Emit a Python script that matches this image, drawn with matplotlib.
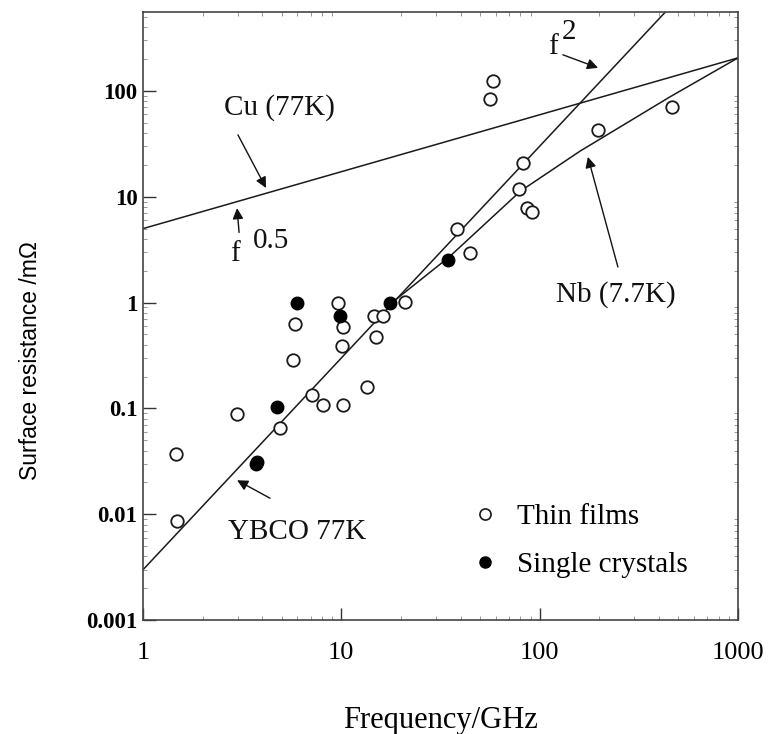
"""
Surface resistance vs frequency: YBCO films and crystals at 77 K,
compared with Cu (77 K) and Nb (7.7 K).
"""

import matplotlib

matplotlib.use("Agg")
import matplotlib.pyplot as plt
from matplotlib.lines import Line2D
from matplotlib.ticker import FixedLocator, LogLocator, NullFormatter

# thin film points (GHz, mOhm)
film_f = [1.47, 1.48, 2.98, 4.9, 5.7, 5.84, 7.1, 8.1, 9.6, 10.2, 10.1, 10.2,
          13.5, 14.6, 16.2, 15.0, 21.0, 38.3, 44.6, 82.5, 78.7, 86.4, 91.5,
          58.2, 56.2, 197, 465]
film_r = [0.037, 0.0086, 0.088, 0.066, 0.29, 0.63, 0.135, 0.107, 1.0, 0.59,
          0.385, 0.107, 0.16, 0.75, 0.74, 0.47, 1.02, 5.0, 2.96, 20.9, 11.9,
          7.9, 7.2, 124, 84, 43, 71]

# single crystal points
xtal_f = [3.7, 3.75, 4.74, 6.0, 9.85, 17.6, 34.5]
xtal_r = [0.030, 0.031, 0.104, 1.0, 0.75, 1.0, 2.5]

# reference curves
cu_f = [1, 1000]
cu_r = [5.0, 205]
nb_f = [18, 35, 80, 160, 455, 1000]
nb_r = [1.0, 2.7, 11.3, 27, 88, 205]
ybco_f = [1, 1000]
ybco_r = [0.003, 3000]

x_ticks = [1, 10, 100, 1000]
x_labels = ["1", "10", "100", "1000"]
y_ticks = [0.001, 0.01, 0.1, 1, 10, 100]
y_labels = ["0.001", "0.01", "0.1", "1", "10", "100"]

serif = ["Liberation Serif", "DejaVu Serif"]
plt.rcParams["font.family"] = serif

fig = plt.figure(figsize=(7.71, 7.34), dpi=100)
ax = fig.add_axes([0.1855, 0.155, 0.7717, 0.828])

line_kw = dict(color="#1a1a1a", linewidth=1.1, zorder=2)
ax.plot(cu_f, cu_r, **line_kw)
ax.plot(nb_f, nb_r, **line_kw)
ax.plot(ybco_f, ybco_r, **line_kw)

ax.plot(film_f, film_r, "o", ms=9, mfc="white", mec="#1a1a1a", mew=1.3,
        linestyle="none", zorder=3)
ax.plot(xtal_f, xtal_r, "o", ms=9, mfc="black", mec="black", mew=1.0,
        linestyle="none", zorder=3)

ax.set_xscale("log")
ax.set_yscale("log")
ax.set_xlim(1, 1000)
ax.set_ylim(0.001, 550)

ax.xaxis.set_major_locator(FixedLocator(x_ticks))
ax.set_xticklabels(x_labels, fontsize=19)
ax.yaxis.set_major_locator(FixedLocator(y_ticks))
ax.set_yticklabels(y_labels, fontsize=16.5, fontweight="bold")
ax.xaxis.set_minor_locator(LogLocator(base=10, subs=range(2, 10)))
ax.yaxis.set_minor_locator(LogLocator(base=10, subs=range(2, 10)))
ax.xaxis.set_minor_formatter(NullFormatter())
ax.yaxis.set_minor_formatter(NullFormatter())
ax.tick_params(which="major", direction="in", length=9, width=1.0,
               colors="#333333", labelcolor="black")
ax.tick_params(axis="x", which="major", pad=16)
ax.tick_params(axis="y", which="major", pad=4)
ax.tick_params(which="minor", direction="in", length=3, width=0.6,
               colors="#888888", top=True, right=True)
for sp in ax.spines.values():
    sp.set_color("#444444")
    sp.set_linewidth(1.2)

ax.set_xlabel("Frequency/GHz", fontsize=22, labelpad=30)
ax.set_ylabel("Surface resistance /m\u03a9", fontsize=16.5,
              family=["Liberation Sans Narrow", "Liberation Sans", "DejaVu Sans"])
ax.yaxis.set_label_coords(-0.17, 0.428)

txt = dict(fontsize=21, ha="center", va="center", color="#111111")
arrow = dict(arrowstyle="-|>", color="#111111", lw=1.0, mutation_scale=16,
             shrinkA=0, shrinkB=0)

ax.text(4.9, 69, "Cu (77K)", **txt)
ax.annotate("", xy=(4.17, 12.1), xytext=(3.01, 38.4), arrowprops=arrow)

ax.text(2.91, 2.9, "f", **txt)
ax.text(4.4, 3.8, "0.5", **txt)
ax.annotate("", xy=(2.98, 7.8), xytext=(3.05, 4.6), arrowprops=arrow)

ax.text(117, 258, "f", **txt)
ax.text(140, 360, "2", **txt)
ax.annotate("", xy=(197, 165), xytext=(131, 219), arrowprops=arrow)

ax.text(243, 1.18, "Nb (7.7K)", **txt)
ax.annotate("", xy=(175, 23.8), xytext=(248, 2.17), arrowprops=arrow)

ax.text(6.0, 0.0068, "YBCO 77K", **txt)
ax.annotate("", xy=(2.98, 0.021), xytext=(4.37, 0.0142), arrowprops=arrow)

handles = [
    Line2D([], [], marker="o", ls="none", ms=8, mfc="white", mec="#1a1a1a", mew=1.2),
    Line2D([], [], marker="o", ls="none", ms=8, mfc="black", mec="black"),
]
ax.legend(handles, ["Thin films", "Single crystals"], loc="upper left",
          bbox_to_anchor=(0.55, 0.192), frameon=False, fontsize=21,
          handlelength=1.0, handletextpad=0.6, labelspacing=0.75,
          borderpad=0, borderaxespad=0)

fig.savefig("out.png", dpi=100)
